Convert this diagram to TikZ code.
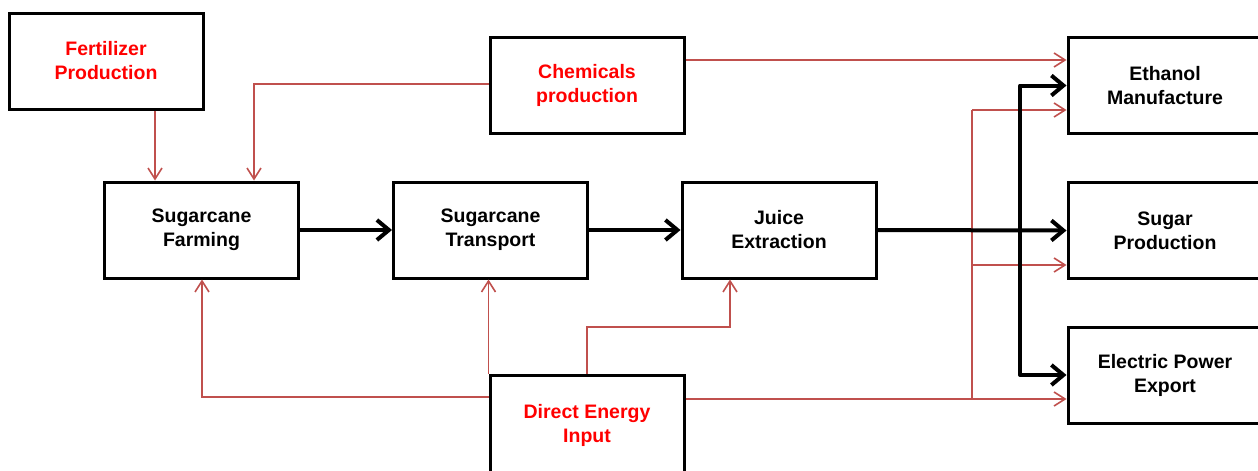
\documentclass[tikz,border=0pt]{standalone}
\usepackage{fontspec}
\setmainfont{Liberation Sans}
\usetikzlibrary{arrows.meta}
\definecolor{lred}{HTML}{C0504D}
\begin{document}
\begin{tikzpicture}[x=1pt,y=-1pt,
  box/.style={draw, line width=3pt, minimum width=194pt, minimum height=96pt, align=center,
    font=\bfseries\fontsize{19.5}{24}\selectfont, inner sep=0pt},
  ra/.style={draw=lred, line width=1.6pt, -{Straight Barb[length=11pt,width=14pt]}},
  rl/.style={draw=lred, line width=1.6pt},
  ba/.style={draw=black, line width=4pt, line join=round, -{Straight Barb[length=12pt,width=20pt]}}]
\useasboundingbox (0,0) rectangle (1258,471);
\clip (0,0) rectangle (1258,471);

\node[box, text=red] (fert) at (106,61) {Fertilizer\\Production};
\node[box, text=red] (chem) at (587,85.5) {Chemicals\\production};
\node[box] (farm) at (201.5,230) {Sugarcane\\Farming};
\node[box] (trans) at (490.5,230) {Sugarcane\\Transport};
\node[box] (juice) at (779,230) {Juice\\Extraction};
\node[box] (eth) at (1165,85.5) {Ethanol\\Manufacture};
\node[box] (sugar) at (1165,230.5) {Sugar\\Production};
\node[box] (elec) at (1165,375) {Electric Power\\Export};
\node[box, minimum height=100pt, text=red] (dei) at (587,425) {Direct Energy\\Input};

% helper coordinates
\coordinate (f1) at (155,0);
\coordinate (c1) at (254,84);
\coordinate (r60) at (0,60);
\coordinate (rb) at (972,0);
\coordinate (r110) at (0,110);
\coordinate (r265) at (0,265);
\coordinate (r399) at (0,399);
\coordinate (d1) at (202,397);
\coordinate (j1) at (730,327);
\coordinate (bb) at (1020,0);

% red connectors
\draw[ra] (fert.south -| f1) -- (farm.north -| f1);
\draw[ra] (chem.west |- c1) -- (c1) -- (c1 |- farm.north);
\draw[ra] (chem.east |- r60) -- (eth.west |- r60);
\draw[rl] (rb |- r110) -- (rb |- r399);
\draw[ra] (rb |- r110) -- (eth.west |- r110);
\draw[ra] (rb |- r265) -- (sugar.west |- r265);
\draw[ra] (dei.east |- r399) -- (elec.west |- r399);
\draw[ra] (dei.west |- d1) -- (d1) -- (d1 |- farm.south);
\draw[ra] (dei.north west) -- (dei.north west |- trans.south);
\draw[ra] (dei.north) -- (dei.north |- j1) -- (j1) -- (j1 |- juice.south);

% black connectors
\draw[ba] (farm.east) -- (trans.west);
\draw[ba] (trans.east) -- (juice.west);
\draw[ba] (juice.east) -- (sugar.west);
\draw[ba] (bb |- sugar.west) |- (eth.west);
\draw[ba] (bb |- sugar.west) |- (elec.west);
\end{tikzpicture}
\end{document}
